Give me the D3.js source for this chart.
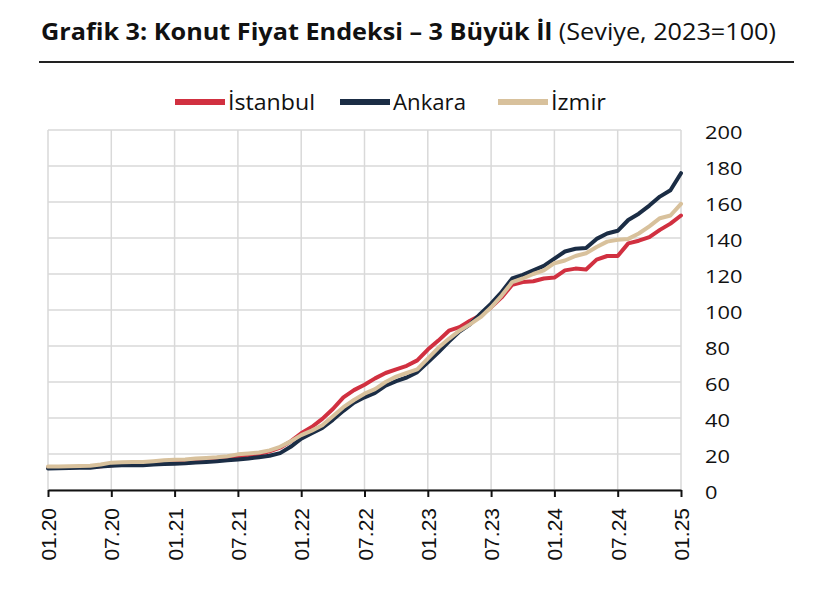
<!DOCTYPE html>
<html><head><meta charset="utf-8">
<script src="https://cdn.jsdelivr.net/npm/d3@7"></script>
<style>body{margin:0;background:#fff}svg{display:block}</style>
</head><body>
<svg id="c" width="820" height="592"></svg>
<script>
const tickLabels = ["01.20","07.20","01.21","07.21","01.22","07.22","01.23","07.23","01.24","07.24","01.25"];
const yTicks = [0,20,40,60,80,100,120,140,160,180,200];
const seriesNames = ["İstanbul","Ankara","İzmir"];
const seriesColors = ["#d13040","#1b2d45","#d8c19c"];
const istanbul = [12.5,12.6,12.7,12.8,12.9,13.2,13.8,14.2,14.4,14.6,15.0,15.4,15.7,16.0,16.3,16.6,17.0,17.5,18.2,19.0,20.0,21.5,23.5,27,31.5,35,39.5,45,51.5,55.5,58.5,62,65,67,69,72,78,83,88.5,90.5,94,97,101.5,107,114,115.5,116,117.5,118,122,123,122.5,128,130,130,137,138.5,140.5,144.5,148,152.5];
const ankara = [12,12.1,12.2,12.3,12.4,13.0,13.5,13.7,13.8,13.7,14.2,14.5,14.6,14.8,15.3,15.6,16.0,16.5,17.0,17.5,18.2,19.0,20.5,24,28.5,31.5,34.5,39,44,48.5,51.5,54,58,60.5,62.5,65.5,71,76.5,82.5,88,92,98,103.5,110,117.5,119.5,122,124.5,128.5,132.5,134,134.5,139.5,142.5,144,150,153.5,158,163,166.5,176];
const izmir = [13,13.1,13.2,13.3,13.5,14.2,15.2,15.4,15.5,15.6,16.0,16.5,16.8,17.0,17.5,17.8,18.2,18.8,19.8,20.3,20.8,22,24,27,30.5,33,36,41,46,50,53.5,56,60,63,65,67,73,79,84,88.5,92,96,101.5,108,115.5,117.5,120,122,126,127.5,130,131.5,135,138,139,139.5,142.5,146.5,151,152.5,159];
const data = [istanbul, ankara, izmir];

const svg = d3.select("#c");
const x = d3.scaleLinear().domain([0,60]).range([48,681]);
const y = d3.scaleLinear().domain([0,200]).range([490,130]);

// title
const t = svg.append("text").attr("x",41).attr("y",39.5).attr("font-family","Open Sans").attr("font-size",23.2).attr("fill","#111")
  .attr("textLength",735).attr("lengthAdjust","spacingAndGlyphs");
t.append("tspan").attr("font-weight","bold").text("Grafik 3: Konut Fiyat Endeksi – 3 Büyük İl");
t.append("tspan").attr("font-weight","normal").text(" (Seviye, 2023=100)");
svg.append("line").attr("x1",39).attr("x2",794).attr("y1",62).attr("y2",62).attr("stroke","#222").attr("stroke-width",2);

// legend
const legX = [175,340,498];
const legW = [87,73,55];
seriesNames.forEach((n,i)=>{
  svg.append("line").attr("x1",legX[i]).attr("x2",legX[i]+50).attr("y1",102).attr("y2",102).attr("stroke",seriesColors[i]).attr("stroke-width",6);
  svg.append("text").attr("x",legX[i]+53).attr("y",109.5).attr("font-family","Open Sans").attr("font-size",21.5).attr("fill","#111")
    .attr("textLength",legW[i]).attr("lengthAdjust","spacingAndGlyphs").text(n);
});

// grid
const g = svg.append("g");
yTicks.forEach(v=>{
  g.append("line").attr("x1",48).attr("x2",681).attr("y1",y(v)).attr("y2",y(v)).attr("stroke","#d9d9d9").attr("stroke-width",1.5);
});
tickLabels.forEach((l,i)=>{
  g.append("line").attr("x1",x(i*6)).attr("x2",x(i*6)).attr("y1",130).attr("y2",490).attr("stroke","#d9d9d9").attr("stroke-width",1.5);
});

// y labels
const yAxis = d3.axisRight(y).tickValues(yTicks).tickSize(0).tickPadding(0);
const ya = svg.append("g").attr("transform","translate(705,0)").call(yAxis);
ya.select(".domain").remove();
ya.selectAll("text").attr("font-family","Open Sans").attr("font-size",18.5).attr("fill","#111").attr("x",0).attr("dy","0.45em")
  .attr("transform","scale(1.18,1)");

// lines
const line = d3.line().x((d,i)=>x(i)).y(d=>y(d));
data.forEach((s,i)=>{
  svg.append("path").datum(s).attr("d",line).attr("fill","none").attr("stroke",seriesColors[i]).attr("stroke-width",4).attr("stroke-linejoin","round").attr("stroke-linecap","round");
});

// x axis
const xAxis = d3.axisBottom(x).tickValues(d3.range(0,61,6)).tickFormat((d,i)=>tickLabels[i]).tickSize(7).tickSizeOuter(0);
const xa = svg.append("g").attr("transform","translate(0,490)").call(xAxis);
xa.select(".domain").attr("stroke","#111").attr("stroke-width",2);
xa.selectAll(".tick line").attr("stroke","#111").attr("stroke-width",2);
xa.selectAll("text").attr("font-family","Liberation Sans").attr("font-size",21).attr("fill","#111")
  .attr("transform","rotate(-90)").attr("text-anchor","end").attr("x",-18).attr("y",0).attr("dy","0.36em");
</script>
</body></html>
